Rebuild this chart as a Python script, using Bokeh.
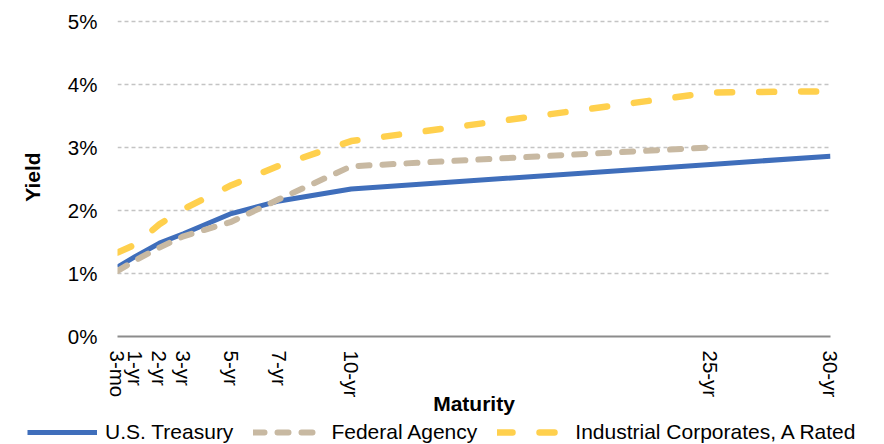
import math
from bokeh.plotting import figure
from bokeh.layouts import column
from bokeh.models import FixedTicker, Range1d, Legend, LegendItem
from bokeh.embed import file_html
from bokeh.resources import INLINE

# ---- data ----
maturity_labels = ["3-mo", "1-yr", "2-yr", "3-yr", "5-yr", "7-yr", "10-yr", "25-yr", "30-yr"]
maturity_years = [0.25, 1, 2, 3, 5, 7, 10, 25, 30]
treasury_yield = [1.10, 1.27, 1.48, 1.63, 1.95, 2.15, 2.34, 2.73, 2.86]
agency_years = [0.25, 1, 2, 3, 5, 7, 10, 25]
agency_yield = [1.04, 1.21, 1.41, 1.59, 1.82, 2.18, 2.70, 3.00]
corporate_yield = [1.33, 1.46, 1.78, 2.02, 2.40, 2.71, 3.10, 3.87, 3.89]
series_names = ["U.S. Treasury", "Federal Agency", "Industrial Corporates, A Rated"]
y_ticks = [0, 1, 2, 3, 4, 5]
y_tick_labels = ["0%", "1%", "2%", "3%", "4%", "5%"]

FONT = "Liberation Sans"
BLUE = "#3F6EBB"
TAN = "#C8B9A2"
YELLOW = "#FFD04D"
styles = [
    dict(line_color=BLUE, line_width=5, line_join="round"),
    dict(line_color=TAN, line_width=6, line_dash="11 13", line_cap="round", line_join="round"),
    dict(line_color=YELLOW, line_width=6.5, line_dash="15 27", line_cap="round", line_join="round"),
]
series_x = [maturity_years, agency_years, maturity_years]
series_y = [treasury_yield, agency_yield, corporate_yield]

p = figure(width=884, height=420, output_backend="svg", toolbar_location=None,
           x_range=Range1d(0.25, 30), y_range=Range1d(0, 5.06),
           min_border_left=117, min_border_right=54, min_border_top=17, min_border_bottom=84)
p.frame_align = False
p.outline_line_color = None
p.background_fill_color = "white"
p.border_fill_color = "white"

# grid
p.xgrid.grid_line_color = None
p.ygrid.ticker = FixedTicker(ticks=[1, 2, 3, 4, 5])
p.ygrid.grid_line_color = "#C4C4C4"
p.ygrid.grid_line_width = 1.5
p.ygrid.grid_line_dash = "4 3"

# x axis
xa = p.xaxis[0]
xa.ticker = FixedTicker(ticks=maturity_years)
overrides = {}
for v, l in zip(maturity_years, maturity_labels):
    overrides[v] = l
    overrides[float(v)] = l
xa.major_label_overrides = overrides
xa.major_label_orientation = -math.pi / 2
xa.major_tick_out = 0
xa.major_tick_in = 0
xa.minor_tick_out = 0
xa.minor_tick_in = 0
xa.major_label_standoff = 14
xa.major_tick_line_color = None
xa.minor_tick_line_color = None
xa.axis_line_color = "#8C8C8C"
xa.axis_line_width = 2
xa.major_label_text_font = FONT
xa.major_label_text_font_size = "20.5px"
xa.major_label_text_color = "black"
xa.axis_label = "Maturity"
xa.axis_label_text_font = FONT
xa.axis_label_text_font_size = "21px"
xa.axis_label_text_font_style = "bold"
xa.axis_label_text_color = "black"
xa.axis_label_standoff = -8

# y axis
ya = p.yaxis[0]
ya.ticker = FixedTicker(ticks=y_ticks)
ya.major_label_overrides = {t: l for t, l in zip(y_ticks, y_tick_labels)}
ya.major_tick_out = 0
ya.major_tick_in = 0
ya.minor_tick_out = 0
ya.minor_tick_in = 0
ya.major_tick_line_color = None
ya.minor_tick_line_color = None
ya.axis_line_color = None
ya.major_label_standoff = 20
ya.major_label_text_font = FONT
ya.major_label_text_font_size = "20.5px"
ya.major_label_text_color = "black"
ya.axis_label = "Yield"
ya.axis_label_text_font = FONT
ya.axis_label_text_font_size = "21px"
ya.axis_label_text_font_style = "bold"
ya.axis_label_text_color = "black"
ya.axis_label_standoff = 21

for xs, ys, s in zip(series_x, series_y, styles):
    p.line(xs, ys, **s)

# ---- legend strip below the chart (proxy lines lie outside its visible range) ----
lg = figure(width=884, height=24, output_backend="svg", toolbar_location=None,
            x_range=Range1d(-2, -1), y_range=Range1d(-2, -1),
            min_border_left=0, min_border_right=0, min_border_top=0, min_border_bottom=0)
lg.frame_align = False
lg.axis.visible = False
lg.grid.visible = False
lg.outline_line_color = None
lg.background_fill_color = "white"
lg.border_fill_color = "white"
proxies = [lg.line(xs, ys, **s) for xs, ys, s in zip(series_x, series_y, styles)]
legend = Legend(items=[LegendItem(label=n, renderers=[r]) for n, r in zip(series_names, proxies)],
                orientation="horizontal", location=(27, 0),
                glyph_width=70, glyph_height=24, label_height=24, label_standoff=8, spacing=20,
                padding=0, margin=0, border_line_alpha=0, background_fill_alpha=0,
                label_text_font=FONT, label_text_font_size="21px", label_text_color="black")
lg.add_layout(legend, "center")

layout = column(p, lg, spacing=0)
open("out.html", "w").write(file_html(layout, INLINE))
